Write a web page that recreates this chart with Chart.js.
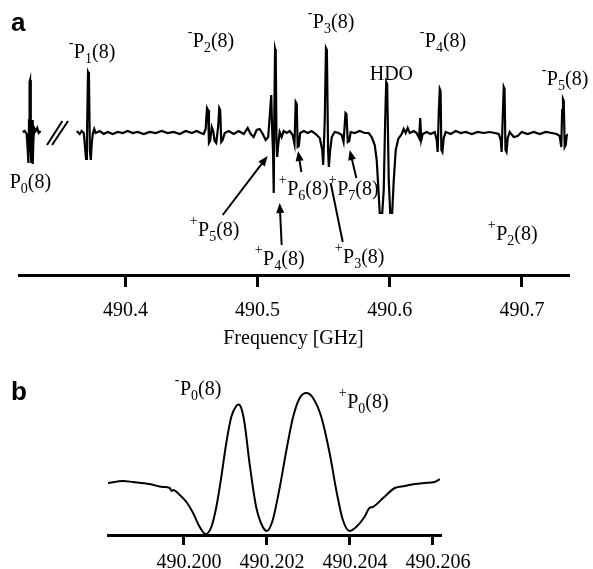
<!DOCTYPE html>
<html>
<head>
<meta charset="utf-8">
<script src="https://cdn.jsdelivr.net/npm/chart.js@4.4.1/dist/chart.umd.min.js"></script>
<style>
  html, body { margin: 0; padding: 0; background: #fff; }
  #wrap { position: relative; width: 593px; height: 569px; overflow: hidden; }
  canvas { position: absolute; left: 0; }
  #chartA { top: 0; }
  #chartB { top: 350px; }
</style>
</head>
<body>
<div id="wrap">
  <canvas id="chartA" width="593" height="350"></canvas>
  <canvas id="chartB" width="593" height="219"></canvas>
</div>
<script>
// tick labels
const tickFreqA = [490.4, 490.5, 490.6, 490.7];
const tickLabelsA = ['490.4', '490.5', '490.6', '490.7'];
const tickFreqB = [490.200, 490.202, 490.204, 490.206];
const tickLabelsB = ['490.200', '490.202', '490.204', '490.206'];

// panel a: P0 piece left of the axis break
const p0Freq = [490.3223, 490.3238, 490.3253, 490.3261, 490.3266, 490.3271, 490.3275, 490.3279, 490.3284,
    490.3288, 490.3294, 490.3299, 490.3304, 490.3310, 490.3321, 490.3333, 490.3344, 490.3359];
const p0Signal = [1, 2, -1, -17, -30, 13, 51, 53, -17, -30, 13, -31, -7, 5, 2, 5, 0, 2];

// panel a: main spectrum
const specFreq = [
    490.3632, 490.3654, 490.3669, 490.3685, 490.3696, 490.3702, 490.3709, 490.3717, 490.3724, 490.3731,
    490.3738, 490.3745, 490.3753, 490.3764, 490.3775, 490.3806, 490.3836, 490.3866, 490.3904, 490.3942,
    490.3980, 490.4017, 490.4055, 490.4093, 490.4138, 490.4184, 490.4229, 490.4275, 490.4320, 490.4365,
    490.4411, 490.4456, 490.4502, 490.4539, 490.4570,
    490.4592, 490.4607, 490.4617, 490.4625, 490.4632, 490.4641, 490.4653, 490.4664, 490.4675, 490.4687,
    490.4702, 490.4710, 490.4717, 490.4725, 490.4736, 490.4751, 490.4781, 490.4819, 490.4857, 490.4895,
    490.4925, 490.4948, 490.4970, 490.4993, 490.5016, 490.5039, 490.5061, 490.5080, 490.5095, 490.5103,
    490.5110, 490.5117, 490.5122, 490.5126, 490.5132, 490.5137, 490.5143, 490.5148, 490.5156, 490.5167,
    490.5182, 490.5197, 490.5220, 490.5243, 490.5265, 490.5279, 490.5288, 490.5296, 490.5303, 490.5312,
    490.5322, 490.5349, 490.5379, 490.5409, 490.5440, 490.5470, 490.5489, 490.5496, 490.5508, 490.5517,
    490.5524, 490.5533, 490.5539, 490.5549, 490.5561, 490.5583, 490.5613, 490.5636, 490.5650, 490.5665,
    490.5672, 490.5682, 490.5693, 490.5704, 490.5734, 490.5772, 490.5810, 490.5840,
    490.5863, 490.5886, 490.5901, 490.5912, 490.5924, 490.5943, 490.5954, 490.5965, 490.5973, 490.5980,
    490.5992, 490.6003, 490.6018, 490.6030, 490.6045, 490.6064, 490.6090, 490.6105, 490.6120, 490.6135,
    490.6151, 490.6181, 490.6203, 490.6222, 490.6230, 490.6238, 490.6249, 490.6279, 490.6309, 490.6340,
    490.6355, 490.6362, 490.6371, 490.6378, 490.6384, 490.6390, 490.6398, 490.6408, 490.6423, 490.6461,
    490.6499, 490.6536, 490.6574, 490.6620, 490.6665, 490.6710, 490.6756, 490.6794, 490.6824, 490.6839,
    490.6846, 490.6856, 490.6862, 490.6868, 490.6875, 490.6883, 490.6892, 490.6907, 490.6937, 490.6967,
    490.6998, 490.7043, 490.7089, 490.7134, 490.7179, 490.7225, 490.7262, 490.7285, 490.7297, 490.7304,
    490.7310, 490.7316, 490.7323, 490.7331, 490.7338, 490.7348
];
const specSignal = [
    2, -1, 2, 0, -17, -26, -7, 61, 59, -17,
    -27, -11, -1, 4, 0, 2, -1, 1, -1, 1,
    0, 2, 0, 1, -1, 1, 0, 2, 0, 1,
    -1, 2, 0, 2, 0,
    -1, 4, 25, 23, -10, -8, 6, 2, -8, -10,
    7, 25, 23, -9, -7, 0, 2, -1, 2, -1,
    5, -1, -4, 3, 4, -1, -7, -4, 23, 38,
    3, -20, -60, 13, 84, 81, -7, -24, -12, 1,
    -4, 2, 0, 2, -2, -11, 31, 29, -14, -13,
    0, 2, 0, 2, -1, -5, -17, -32, 13, 85,
    83, -17, -34, -17, -4, 1, 0, -2, -9, 20,
    19, -9, -8, 1, 0, 2, 0, 0,
    -4, -12, -27, -52, -80, -80, -57, 13, 51, 49,
    -47, -80, -80, -47, -17, -6, -1, 4, 0, 5,
    0, 2, 0, -5, 15, -7, -1, 1, -1, 1,
    -7, -19, 23, 44, 42, -17, -19, -5, 1, -1,
    2, 0, 1, -1, 1, 0, 1, 0, -1, -7,
    -19, 23, 46, 44, -17, -19, -5, 1, -4, -3,
    1, -1, 1, -1, 1, 0, -1, -3, -14, 23,
    34, 32, -14, -12, -3, -1
];

// panel b: zoom on P0(8)
const zoomFreq = [
    490.19817, 490.19853, 490.19877, 490.19917, 490.19949, 490.19966, 490.19970, 490.19974, 490.19990, 490.20006,
    490.20022, 490.20038, 490.20052, 490.20066, 490.20078, 490.20090, 490.20102, 490.20114, 490.20126, 490.20132,
    490.20138, 490.20146, 490.20158, 490.20174, 490.20190, 490.20200, 490.20214, 490.20231, 490.20247, 490.20263,
    490.20279, 490.20295, 490.20311, 490.20331, 490.20351, 490.20367, 490.20383, 490.20399, 490.20415, 490.20435,
    490.20447, 490.20455, 490.20480, 490.20508, 490.20532, 490.20556, 490.20580, 490.20604, 490.20617
];
const zoomSignal = [
    52, 54, 53, 51, 48, 47, 44, 45, 40, 33,
    22, 8, 1, 8, 28, 58, 92, 118, 129, 130.5,
    127, 112, 72, 28, 8, 4, 15, 48, 85, 118,
    137, 142, 137, 118, 82, 45, 15, 4, 8, 18,
    27, 28, 37, 47, 49, 51, 52, 53, 56
];

// annotations (x in GHz, y in signal units)
const labelsA = [
    { sup: '-', main: 'P', sub: '1', tail: '(8)', x: 490.3571, y: 75 },
    { sup: '-', main: 'P', sub: '2', tail: '(8)', x: 490.4471, y: 86 },
    { sup: '-', main: 'P', sub: '3', tail: '(8)', x: 490.5379, y: 105 },
    { sup: '', main: 'HDO', sub: '', tail: '', x: 490.5848, y: 53 },
    { sup: '-', main: 'P', sub: '4', tail: '(8)', x: 490.6226, y: 86 },
    { sup: '-', main: 'P', sub: '5', tail: '(8)', x: 490.7149, y: 48 },
    { sup: '', main: 'P', sub: '0', tail: '(8)', x: 490.3125, y: -55 },
    { sup: '+', main: 'P', sub: '5', tail: '(8)', x: 490.4486, y: -103 },
    { sup: '+', main: 'P', sub: '4', tail: '(8)', x: 490.4978, y: -132 },
    { sup: '+', main: 'P', sub: '6', tail: '(8)', x: 490.5160, y: -62 },
    { sup: '+', main: 'P', sub: '7', tail: '(8)', x: 490.5538, y: -62 },
    { sup: '+', main: 'P', sub: '3', tail: '(8)', x: 490.5583, y: -130 },
    { sup: '+', main: 'P', sub: '2', tail: '(8)', x: 490.6741, y: -107 }
];
const arrowsA = [
    { x1: 490.4736, y1: -82, x2: 490.5076, y2: -23, head: true },
    { x1: 490.5182, y1: -112, x2: 490.5167, y2: -70, head: true },
    { x1: 490.5331, y1: -39, x2: 490.5306, y2: -18, head: true },
    { x1: 490.5747, y1: -45, x2: 490.5697, y2: -17, head: true },
    { x1: 490.5644, y1: -109, x2: 490.5553, y2: -50, head: false },
    // axis break marks
    { x1: 490.3407, y1: -12, x2: 490.3523, y2: 12, head: false },
    { x1: 490.3445, y1: -12, x2: 490.3566, y2: 12, head: false }
];
const labelsB = [
    { sup: '-', main: 'P', sub: '0', tail: '(8)', x: 490.19978, y: 140 },
    { sup: '+', main: 'P', sub: '0', tail: '(8)', x: 490.20373, y: 127 }
];

const serif = "'Liberation Serif', 'Times New Roman', serif";
const sans = "'Liberation Sans', Arial, sans-serif";

function toPoints(xs, ys) {
    return xs.map((x, i) => ({ x: x, y: ys[i] }));
}

function drawLabel(ctx, x, y, l) {
    ctx.textBaseline = 'alphabetic';
    ctx.textAlign = 'left';
    let cx = x;
    if (l.sup) {
        ctx.font = `14px ${serif}`;
        ctx.fillText(l.sup, cx, y - 11);
        cx += ctx.measureText(l.sup).width + 0.5;
    }
    ctx.font = `20px ${serif}`;
    ctx.fillText(l.main, cx, y);
    cx += ctx.measureText(l.main).width;
    if (l.sub) {
        ctx.font = `14px ${serif}`;
        ctx.fillText(l.sub, cx, y + 5);
        cx += ctx.measureText(l.sub).width;
    }
    if (l.tail) {
        ctx.font = `20px ${serif}`;
        ctx.fillText(l.tail, cx, y);
    }
}

function drawArrow(ctx, x1, y1, x2, y2, head) {
    const ang = Math.atan2(y2 - y1, x2 - x1);
    const len = 10, w = 4;
    const ex = head ? x2 - (len - 2) * Math.cos(ang) : x2;
    const ey = head ? y2 - (len - 2) * Math.sin(ang) : y2;
    ctx.beginPath();
    ctx.moveTo(x1, y1);
    ctx.lineTo(ex, ey);
    ctx.stroke();
    if (!head) return;
    ctx.beginPath();
    ctx.moveTo(x2, y2);
    ctx.lineTo(x2 - len * Math.cos(ang) + w * Math.sin(ang), y2 - len * Math.sin(ang) - w * Math.cos(ang));
    ctx.lineTo(x2 - len * Math.cos(ang) - w * Math.sin(ang), y2 - len * Math.sin(ang) + w * Math.cos(ang));
    ctx.closePath();
    ctx.fill();
}

function makeAnnotations(id, labels, arrows, panel, title) {
    return {
        id: id,
        afterDraw(chart) {
            const ctx = chart.ctx;
            const xs = chart.scales.x, ys = chart.scales.y;
            ctx.save();
            ctx.fillStyle = '#000';
            ctx.strokeStyle = '#000';
            labels.forEach(l => drawLabel(ctx, xs.getPixelForValue(l.x), ys.getPixelForValue(l.y), l));
            ctx.lineWidth = 2;
            arrows.forEach(a => drawArrow(ctx, xs.getPixelForValue(a.x1), ys.getPixelForValue(a.y1),
                xs.getPixelForValue(a.x2), ys.getPixelForValue(a.y2), a.head));
            ctx.font = `bold 26px ${sans}`;
            ctx.textAlign = 'left';
            ctx.textBaseline = 'alphabetic';
            ctx.fillText(panel.text, panel.x, panel.y);
            if (title) {
                ctx.font = `20px ${serif}`;
                ctx.textAlign = 'center';
                ctx.fillText(title.text, (chart.chartArea.left + chart.chartArea.right) / 2, title.y);
            }
            ctx.restore();
        }
    };
}

function axisOptions(min, max, ticks, labels, height, tickLength, padding, labelOffset) {
    return {
        type: 'linear',
        min: min,
        max: max,
        afterBuildTicks: s => { s.ticks = ticks.map(v => ({ value: v })); },
        afterFit: s => { s.height = height; },
        grid: { drawOnChartArea: false, drawTicks: true, tickLength: tickLength, color: '#000', lineWidth: 3 },
        border: { display: true, color: '#000', width: 3 },
        ticks: {
            color: '#000',
            font: { family: serif, size: 20 },
            padding: padding,
            labelOffset: labelOffset,
            maxRotation: 0,
            autoSkip: false,
            callback: (v, i) => labels[i]
        }
    };
}

const lineStyle = { borderColor: '#000', borderWidth: 2.2, pointRadius: 0, fill: false };

new Chart(document.getElementById('chartA'), {
    type: 'line',
    data: {
        datasets: [
            { ...lineStyle, data: toPoints(p0Freq, p0Signal), tension: 0 },
            { ...lineStyle, data: toPoints(specFreq, specSignal), tension: 0 }
        ]
    },
    options: {
        responsive: false,
        animation: false,
        layout: { padding: { left: 19, right: 25, top: 10, bottom: 0 } },
        plugins: { legend: { display: false }, tooltip: { enabled: false } },
        scales: {
            x: axisOptions(490.3195, 490.7348, tickFreqA, tickLabelsA, 75, 12, 12, 0),
            y: { display: false, min: -142, max: 123 }
        }
    },
    plugins: [makeAnnotations('annA', labelsA, arrowsA, { text: 'a', x: 11, y: 31 }, { text: 'Frequency [GHz]', y: 344 })]
});

new Chart(document.getElementById('chartB'), {
    type: 'line',
    data: {
        datasets: [
            { ...lineStyle, borderWidth: 2, data: toPoints(zoomFreq, zoomSignal), cubicInterpolationMode: 'monotone' }
        ]
    },
    options: {
        responsive: false,
        animation: false,
        layout: { padding: { left: 108, right: 153, top: 25, bottom: 0 } },
        plugins: { legend: { display: false }, tooltip: { enabled: false } },
        scales: {
            x: axisOptions(490.19817, 490.20617, tickFreqB, tickLabelsB, 34, 10, 6, 5),
            y: { display: false, min: 0, max: 160 }
        }
    },
    plugins: [makeAnnotations('annB', labelsB, [], { text: 'b', x: 11, y: 50 }, null)]
});
</script>
</body>
</html>
